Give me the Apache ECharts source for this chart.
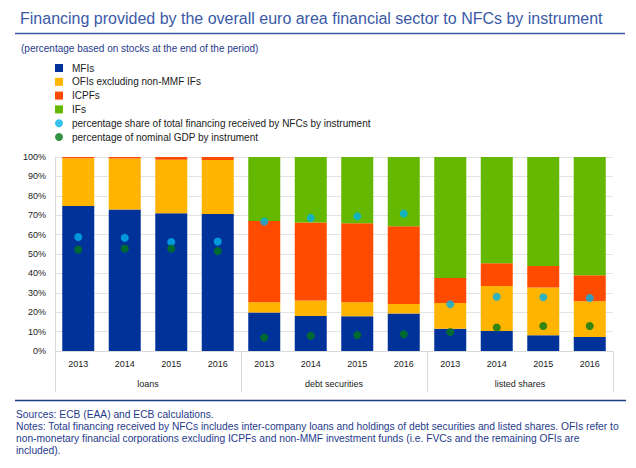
<!DOCTYPE html>
<html>
<head>
<meta charset="utf-8">
<script src="https://cdn.jsdelivr.net/npm/echarts@6/dist/echarts.min.js"></script>
<style>
html,body{margin:0;padding:0;background:#fff;}
#c{width:636px;height:468px;}
</style>
</head>
<body>
<div id="c"></div>
<script>
// ---- data ----
var years = ['2013','2014','2015','2016','2013','2014','2015','2016','2013','2014','2015','2016'];
var groups = ['loans','debt securities','listed shares'];
var yTicks = [0,10,20,30,40,50,60,70,80,90,100];
var mfis  = [74.7,73.0,71.0,70.6, 19.8,18.0,17.9,19.3, 11.5,10.3,8.1,7.2];
var ofis  = [24.6,26.2,27.6,27.9, 5.3,8.0,7.2,4.9, 13.2,23.2,24.6,18.4];
var icpfs = [0.7,0.8,1.4,1.5, 41.9,40.3,40.7,40.1, 12.9,11.7,11.1,13.4];
var ifs   = [0,0,0,0, 33.0,33.7,34.2,35.7, 62.4,54.8,56.2,61.0];
var shareTotal = [58.8,58.4,56.2,56.4, 66.7,68.6,69.4,70.8, 24.1,28.0,27.7,27.3];
var shareGdp   = [52.3,52.8,52.8,51.5, 6.9,7.9,8.2,8.6, 9.8,12.1,12.9,12.9];
var seriesNames = ['MFIs','OFIs excluding non-MMF IFs','ICPFs','IFs',
  'percentage share of total financing received by NFCs by instrument',
  'percentage of nominal GDP by instrument'];
var titleText = 'Financing provided by the overall euro area financial sector to NFCs by instrument';
var subtitleText = '(percentage based on stocks at the end of the period)';
var noteLines = [
  'Sources: ECB (EAA) and ECB calculations.',
  'Notes: Total financing received by NFCs includes inter-company loans and holdings of debt securities and listed shares. OFIs refer to',
  'non-monetary financial corporations excluding ICPFs and non-MMF investment funds (i.e. FVCs and the remaining OFIs are',
  'included).'
];

var FONT = 'Liberation Sans, Arial, sans-serif';
var colors = ['#003299','#FFB400','#FF4B00','#65B800','#00B1EA','#007816'];

var chart = echarts.init(document.getElementById('c'), null, {renderer:'svg'});

function barSeries(i, data){
  return {name: seriesNames[i], type:'bar', stack:'s', data:data, barWidth:32,
    itemStyle:{color:colors[i]}, emphasis:{disabled:true}};
}
function dotSeries(i, data){
  return {name: seriesNames[i], type:'scatter', data:data, symbol:'circle', symbolSize:8,
    itemStyle:{color:colors[i]}, z:5, emphasis:{disabled:true}};
}

var option = {
  animation:false,
  textStyle:{fontFamily:FONT},
  title:[
    {text:titleText, left:15, top:5, textStyle:{fontFamily:FONT, fontSize:16, fontWeight:'normal', color:'#3a5aa8'}},
    {text:subtitleText, left:16, top:38, textStyle:{fontFamily:FONT, fontSize:10, fontWeight:'normal', color:'#1f3b8c'}}
  ],
  legend:{
    orient:'vertical', left:55, top:63, padding:0, itemWidth:8, itemHeight:8, itemGap:3.8,
    selectedMode:false,
    data:[
      {name:seriesNames[0], icon:'rect'},
      {name:seriesNames[1], icon:'rect'},
      {name:seriesNames[2], icon:'rect'},
      {name:seriesNames[3], icon:'rect'},
      {name:seriesNames[4], icon:'circle'},
      {name:seriesNames[5], icon:'circle'}
    ],
    textStyle:{fontFamily:FONT, fontSize:10, color:'#1a1a1a', lineHeight:10, padding:[0,0,0,4]}
  },
  grid:{left:55, right:23, top:157, bottom:117},
  xAxis:[
    {type:'category', data:years, position:'bottom',
      axisLine:{show:true, lineStyle:{color:'#d9d9d9'}},
      axisTick:{show:false},
      axisLabel:{fontFamily:FONT, fontSize:9, color:'#222', margin:8, interval:0}},
    {type:'category', data:groups, position:'bottom',
      axisLine:{show:false},
      axisTick:{show:true, length:41, lineStyle:{color:'#d9d9d9'}},
      axisLabel:{fontFamily:FONT, fontSize:9, color:'#222', margin:28, interval:0}}
  ],
  yAxis:{type:'value', min:yTicks[0], max:yTicks[yTicks.length-1], interval:10,
    axisLine:{show:true, lineStyle:{color:'#d9d9d9'}},
    axisTick:{show:false},
    splitLine:{lineStyle:{color:'#e3e3e3'}},
    axisLabel:{formatter:'{value}%', fontFamily:FONT, fontSize:9, color:'#222', margin:9}},
  graphic:[
    {type:'line', shape:{x1:15, y1:33.5, x2:625, y2:33.5}, style:{stroke:'#3a5aa8', lineWidth:1.5}},
    {type:'line', shape:{x1:15, y1:400.5, x2:626, y2:400.5}, style:{stroke:'#1f3b8c', lineWidth:1.5}},
    {type:'text', left:16, top:408, style:{text:noteLines.join('\n'), font:'10.25px ' + FONT, fill:'#1f3b8c', lineHeight:12}}
  ],
  series:[
    barSeries(0, mfis), barSeries(1, ofis), barSeries(2, icpfs), barSeries(3, ifs),
    dotSeries(4, shareTotal), dotSeries(5, shareGdp)
  ]
};
chart.setOption(option);
</script>
</body>
</html>
